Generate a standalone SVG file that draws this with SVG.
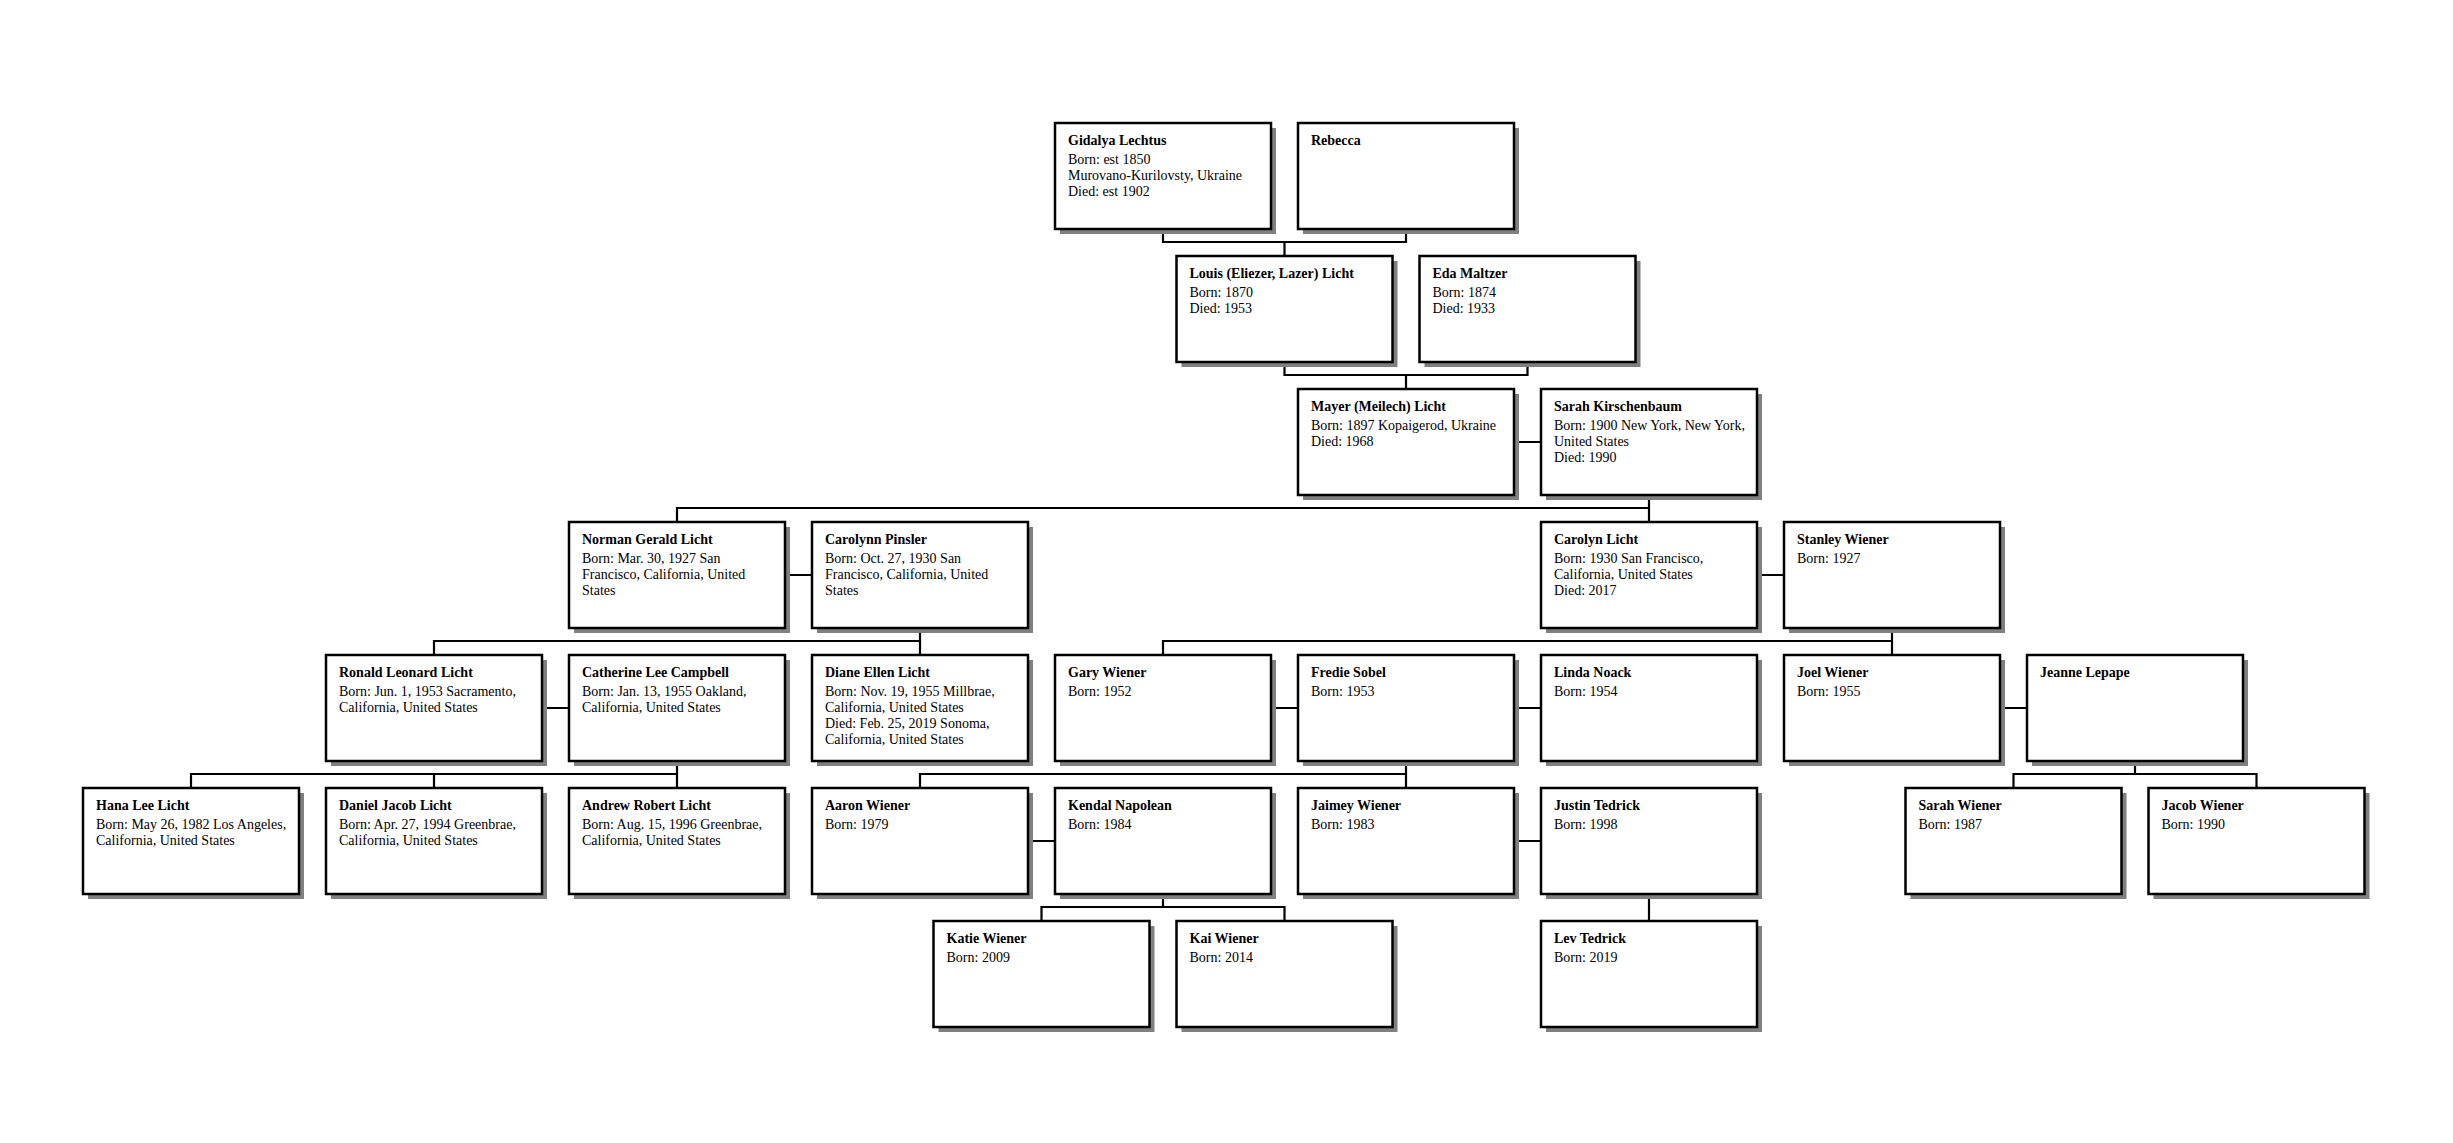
<svg xmlns="http://www.w3.org/2000/svg" width="2453" height="1143" viewBox="0 0 2453 1143">
<style>
.sh{fill:#808080;stroke:none}
.bx{fill:#fff;stroke:#000;stroke-width:2.5}
.nm{font-family:"Liberation Serif",serif;font-size:14px;font-weight:bold;fill:#000}
.dt{font-family:"Liberation Serif",serif;font-size:14px;fill:#000}
.cn{fill:none;stroke:#000;stroke-width:2.2}
</style>
<defs>
<g id="card"><rect class="sh" x="5" y="5" width="216" height="106"/><rect class="bx" x="0" y="0" width="216" height="106"/></g>
</defs>
<rect width="2453" height="1143" fill="#fff"/>
<g id="connectors">
<path class="cn" d="M1163,229V242H1406V229M1284.5,242V256"/>
<path class="cn" d="M1284.5,362V375H1527.5V362M1406,375V389"/>
<path class="cn" d="M1514,442H1541M1649,495V508H677V522M1649,508V522"/>
<path class="cn" d="M785,575H812M920,628V641H434V655M920,641V655"/>
<path class="cn" d="M1757,575H1784M1892,628V641H1163V655M1892,641V655"/>
<path class="cn" d="M542,708H569M677,761V774H191V788M434,774V788M677,774V788"/>
<path class="cn" d="M1271,708H1298M1514,708H1541M1406,761V774H920V788M1406,774V788"/>
<path class="cn" d="M2000,708H2027M2135,761V774M2013.5,788V774H2256.5V788"/>
<path class="cn" d="M1028,841H1055M1163,894V907M1041.5,921V907H1284.5V921"/>
<path class="cn" d="M1514,841H1541M1649,894V921"/>
</g>
<g id="n-gidalya" transform="translate(1055,123)"><use href="#card"/><text class="nm" x="13" y="22">Gidalya Lechtus</text><text class="dt" x="13" y="41">Born: est 1850</text><text class="dt" x="13" y="57">Murovano-Kurilovsty, Ukraine</text><text class="dt" x="13" y="73">Died: est 1902</text></g>
<g id="n-rebecca" transform="translate(1298,123)"><use href="#card"/><text class="nm" x="13" y="22">Rebecca</text></g>
<g id="n-louis" transform="translate(1176.5,256)"><use href="#card"/><text class="nm" x="13" y="22">Louis (Eliezer, Lazer) Licht</text><text class="dt" x="13" y="41">Born: 1870</text><text class="dt" x="13" y="57">Died: 1953</text></g>
<g id="n-eda" transform="translate(1419.5,256)"><use href="#card"/><text class="nm" x="13" y="22">Eda Maltzer</text><text class="dt" x="13" y="41">Born: 1874</text><text class="dt" x="13" y="57">Died: 1933</text></g>
<g id="n-mayer" transform="translate(1298,389)"><use href="#card"/><text class="nm" x="13" y="22">Mayer (Meilech) Licht</text><text class="dt" x="13" y="41">Born: 1897 Kopaigerod, Ukraine</text><text class="dt" x="13" y="57">Died: 1968</text></g>
<g id="n-sarahk" transform="translate(1541,389)"><use href="#card"/><text class="nm" x="13" y="22">Sarah Kirschenbaum</text><text class="dt" x="13" y="41">Born: 1900 New York, New York,</text><text class="dt" x="13" y="57">United States</text><text class="dt" x="13" y="73">Died: 1990</text></g>
<g id="n-norman" transform="translate(569,522)"><use href="#card"/><text class="nm" x="13" y="22">Norman Gerald Licht</text><text class="dt" x="13" y="41">Born: Mar. 30, 1927 San</text><text class="dt" x="13" y="57">Francisco, California, United</text><text class="dt" x="13" y="73">States</text></g>
<g id="n-carolynn" transform="translate(812,522)"><use href="#card"/><text class="nm" x="13" y="22">Carolynn Pinsler</text><text class="dt" x="13" y="41">Born: Oct. 27, 1930 San</text><text class="dt" x="13" y="57">Francisco, California, United</text><text class="dt" x="13" y="73">States</text></g>
<g id="n-carolyn" transform="translate(1541,522)"><use href="#card"/><text class="nm" x="13" y="22">Carolyn Licht</text><text class="dt" x="13" y="41">Born: 1930 San Francisco,</text><text class="dt" x="13" y="57">California, United States</text><text class="dt" x="13" y="73">Died: 2017</text></g>
<g id="n-stanley" transform="translate(1784,522)"><use href="#card"/><text class="nm" x="13" y="22">Stanley Wiener</text><text class="dt" x="13" y="41">Born: 1927</text></g>
<g id="n-ronald" transform="translate(326,655)"><use href="#card"/><text class="nm" x="13" y="22">Ronald Leonard Licht</text><text class="dt" x="13" y="41">Born: Jun. 1, 1953 Sacramento,</text><text class="dt" x="13" y="57">California, United States</text></g>
<g id="n-catherine" transform="translate(569,655)"><use href="#card"/><text class="nm" x="13" y="22">Catherine Lee Campbell</text><text class="dt" x="13" y="41">Born: Jan. 13, 1955 Oakland,</text><text class="dt" x="13" y="57">California, United States</text></g>
<g id="n-diane" transform="translate(812,655)"><use href="#card"/><text class="nm" x="13" y="22">Diane Ellen Licht</text><text class="dt" x="13" y="41">Born: Nov. 19, 1955 Millbrae,</text><text class="dt" x="13" y="57">California, United States</text><text class="dt" x="13" y="73">Died: Feb. 25, 2019 Sonoma,</text><text class="dt" x="13" y="89">California, United States</text></g>
<g id="n-gary" transform="translate(1055,655)"><use href="#card"/><text class="nm" x="13" y="22">Gary Wiener</text><text class="dt" x="13" y="41">Born: 1952</text></g>
<g id="n-fredie" transform="translate(1298,655)"><use href="#card"/><text class="nm" x="13" y="22">Fredie Sobel</text><text class="dt" x="13" y="41">Born: 1953</text></g>
<g id="n-linda" transform="translate(1541,655)"><use href="#card"/><text class="nm" x="13" y="22">Linda Noack</text><text class="dt" x="13" y="41">Born: 1954</text></g>
<g id="n-joel" transform="translate(1784,655)"><use href="#card"/><text class="nm" x="13" y="22">Joel Wiener</text><text class="dt" x="13" y="41">Born: 1955</text></g>
<g id="n-jeanne" transform="translate(2027,655)"><use href="#card"/><text class="nm" x="13" y="22">Jeanne Lepape</text></g>
<g id="n-hana" transform="translate(83,788)"><use href="#card"/><text class="nm" x="13" y="22">Hana Lee Licht</text><text class="dt" x="13" y="41">Born: May 26, 1982 Los Angeles,</text><text class="dt" x="13" y="57">California, United States</text></g>
<g id="n-daniel" transform="translate(326,788)"><use href="#card"/><text class="nm" x="13" y="22">Daniel Jacob Licht</text><text class="dt" x="13" y="41">Born: Apr. 27, 1994 Greenbrae,</text><text class="dt" x="13" y="57">California, United States</text></g>
<g id="n-andrew" transform="translate(569,788)"><use href="#card"/><text class="nm" x="13" y="22">Andrew Robert Licht</text><text class="dt" x="13" y="41">Born: Aug. 15, 1996 Greenbrae,</text><text class="dt" x="13" y="57">California, United States</text></g>
<g id="n-aaron" transform="translate(812,788)"><use href="#card"/><text class="nm" x="13" y="22">Aaron Wiener</text><text class="dt" x="13" y="41">Born: 1979</text></g>
<g id="n-kendal" transform="translate(1055,788)"><use href="#card"/><text class="nm" x="13" y="22">Kendal Napolean</text><text class="dt" x="13" y="41">Born: 1984</text></g>
<g id="n-jaimey" transform="translate(1298,788)"><use href="#card"/><text class="nm" x="13" y="22">Jaimey Wiener</text><text class="dt" x="13" y="41">Born: 1983</text></g>
<g id="n-justin" transform="translate(1541,788)"><use href="#card"/><text class="nm" x="13" y="22">Justin Tedrick</text><text class="dt" x="13" y="41">Born: 1998</text></g>
<g id="n-sarahw" transform="translate(1905.5,788)"><use href="#card"/><text class="nm" x="13" y="22">Sarah Wiener</text><text class="dt" x="13" y="41">Born: 1987</text></g>
<g id="n-jacob" transform="translate(2148.5,788)"><use href="#card"/><text class="nm" x="13" y="22">Jacob Wiener</text><text class="dt" x="13" y="41">Born: 1990</text></g>
<g id="n-katie" transform="translate(933.5,921)"><use href="#card"/><text class="nm" x="13" y="22">Katie Wiener</text><text class="dt" x="13" y="41">Born: 2009</text></g>
<g id="n-kai" transform="translate(1176.5,921)"><use href="#card"/><text class="nm" x="13" y="22">Kai Wiener</text><text class="dt" x="13" y="41">Born: 2014</text></g>
<g id="n-lev" transform="translate(1541,921)"><use href="#card"/><text class="nm" x="13" y="22">Lev Tedrick</text><text class="dt" x="13" y="41">Born: 2019</text></g>
</svg>
